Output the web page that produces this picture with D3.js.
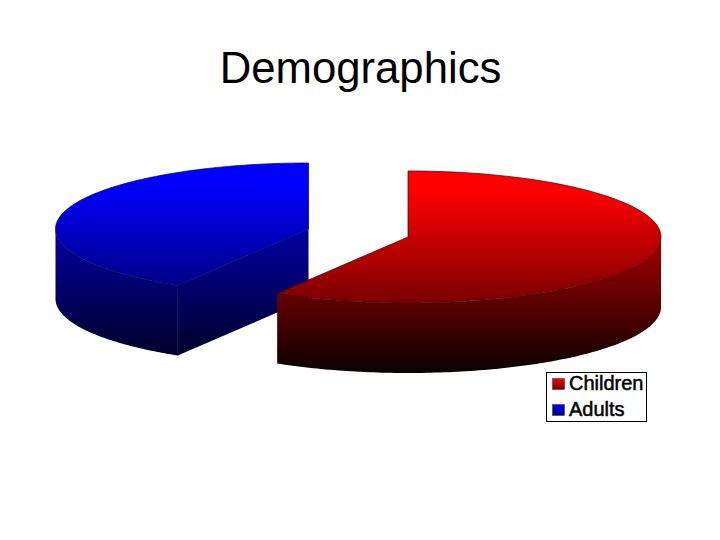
<!DOCTYPE html>
<html><head><meta charset="utf-8">
<script src="https://cdn.jsdelivr.net/npm/d3@7"></script>
<style>html,body{margin:0;padding:0;background:#fff}svg{display:block}</style>
</head><body><svg id="c" width="720" height="540"></svg>
<script>
const categories = ["Children", "Adults"];
const values = [58.65, 41.35];
const title = "Demographics";
const topColors = ["#ff0000", "#0000ff"];
const topEndColors = ["#7a0000", "#00007a"];
const wallStartColors = ["#a80000", "#0000a4"];
const wallEndColors = ["#0a0000", "#000020"];

const centers = [[408, 237], [308.5, 229]];
const RX = 253, RY = 66, DEPTH = 70;

const svg = d3.select("#c");
const defs = svg.append("defs");
const pie = d3.pie().sort(null).value(d => d)(values);
const rx = d3.scaleLinear().domain([0, 1]).range([0, RX]);
const ry = d3.scaleLinear().domain([0, 1]).range([0, RY]);
const px = (i, a, r = 1) => centers[i][0] + rx(r) * Math.sin(a);
const py = (i, a, r = 1) => centers[i][1] - ry(r) * Math.cos(a);
const line = d3.line();

function grad(id, y1, y2, c1, c2, hold = 0) {
  const g = defs.append("linearGradient").attr("id", id)
    .attr("gradientUnits", "userSpaceOnUse")
    .attr("x1", 0).attr("x2", 0).attr("y1", y1).attr("y2", y2);
  g.append("stop").attr("offset", hold).attr("stop-color", c1);
  g.append("stop").attr("offset", 1).attr("stop-color", c2);
}
function arcPts(i, a0, a1, dy = 0) {
  const n = 120;
  return d3.range(n + 1).map(k => {
    const a = a0 + (a1 - a0) * k / n;
    return [px(i, a), py(i, a) + dy];
  });
}
const HALF = Math.PI / 2;
const strokeC = ["#3a0000", "#000060"];

// blue first, so the red slice overlaps it
[1, 0].forEach(i => {
  const p = pie[i];
  const cy = centers[i][1];
  grad("top" + i, cy - RY, cy + RY, topColors[i], topEndColors[i], 0.15);
  grad("wall" + i, cy, cy + RY + DEPTH, wallStartColors[i], wallEndColors[i]);
  const g = svg.append("g").attr("class", "slice-" + categories[i]);
  const fill = `url(#wall${i})`;

  // visible outer wall: the front half, angles from 90deg to 270deg
  const w0 = Math.max(p.startAngle, HALF), w1 = Math.min(p.endAngle, 3 * HALF);
  const wall = arcPts(i, w0, w1).concat(arcPts(i, w1, w0, DEPTH));
  g.append("path").attr("d", line(wall) + "Z").attr("fill", fill);

  // visible cut face, only for the slice whose start edge faces the viewer
  if (i === 1) {
    const a = p.startAngle;
    const face = [[px(i, a), py(i, a)], centers[i],
      [centers[i][0], cy + DEPTH], [px(i, a), py(i, a) + DEPTH]];
    g.append("path").attr("d", line(face) + "Z").attr("fill", fill);
    g.append("path").attr("d", line([[px(i, a), py(i, a)], [px(i, a), py(i, a) + DEPTH]]))
      .attr("fill", "none").attr("stroke", strokeC[i]).attr("stroke-width", 0.8);
  }

  // top face
  const top = arcPts(i, p.startAngle, p.endAngle).concat([centers[i]]);
  g.append("path").attr("d", line(top) + "Z")
    .attr("fill", `url(#top${i})`)
    .attr("stroke", strokeC[i]).attr("stroke-width", 0.7).attr("stroke-linejoin", "round");
});

svg.append("text").attr("x", 360.5).attr("y", 83).attr("text-anchor", "middle")
  .attr("font-family", "'Liberation Sans', Arial, sans-serif").attr("font-size", 43.7)
  .attr("fill", "#000").text(title);

// legend
const lg = svg.append("g").attr("class", "legend");
lg.append("rect").attr("x", 546.5).attr("y", 372.5).attr("width", 100).attr("height", 49)
  .attr("fill", "#fff").attr("stroke", "#000").attr("stroke-width", 1);
const legendY = d3.scalePoint().domain(categories).range([384, 410]);
categories.forEach((c, i) => {
  const y = legendY(c);
  grad("sw" + i, y - 6, y + 6, ["#ff0000", "#0000ff"][i], ["#700000", "#000070"][i]);
  lg.append("rect").attr("x", 552.5).attr("y", y - 5.5).attr("width", 12).attr("height", 11)
    .attr("fill", `url(#sw${i})`).attr("stroke", "#333").attr("stroke-width", 0.5);
  lg.append("text").attr("x", 569).attr("y", y + 6)
    .attr("font-family", "'Liberation Sans', Arial, sans-serif").attr("font-size", 20)
    .attr("fill", "#000").attr("stroke", "#000").attr("stroke-width", 0.5).text(c);
});
</script></body></html>
